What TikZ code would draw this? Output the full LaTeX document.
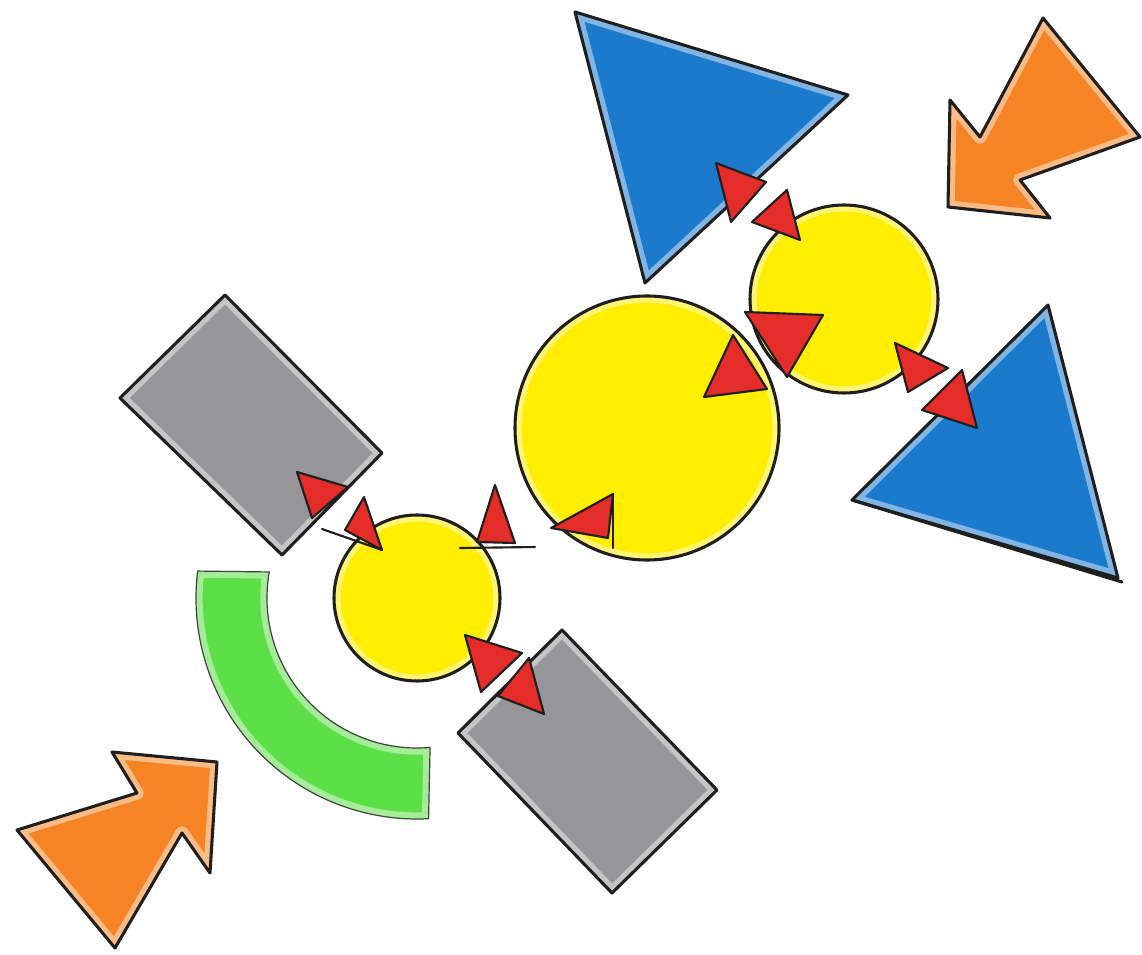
\documentclass[tikz,border=0pt]{standalone}
\definecolor{sblue}{RGB}{28,122,205}
\definecolor{sorange}{RGB}{246,132,36}
\definecolor{syellow}{RGB}{255,238,0}
\definecolor{sgray}{RGB}{150,150,153}
\definecolor{sgreen}{RGB}{92,222,70}
\definecolor{sred}{RGB}{228,45,40}
\tikzset{
  ink/.style={draw=black!88, line width=2.3pt, line join=round, line cap=round},
  wash/.style={draw=white, line width=10pt, opacity=0.45, line join=round},
  thinink/.style={draw=black!75, line width=0.9pt, line join=round},
  tipmark/.style={fill=sred, draw=black!88, line width=1.6pt, line join=round},
  stem/.style={draw=black!88, line width=1.6pt, line cap=round},
}
\def\pBlueA{(575,12) -- (848,95) -- (645,283) -- cycle}
\def\pBlueB{(1048,305) -- (1118,578) -- (852,500) -- cycle}
\def\pOrA{(948,207) -- (950,100) -- (980,137) -- (1043,18) -- (1140,137) -- (1020,180) -- (1050,218) -- cycle}
\def\pOrB{(217,762) -- (210,873) -- (182,833) -- (115,948) -- (17,830) -- (137,793) -- (112,752) -- cycle}
\def\pGrA{(225,295) -- (382,453) -- (282,555) -- (120,398) -- cycle}
\def\pGrB{(562,630) -- (717,790) -- (612,893) -- (458,733) -- cycle}
\def\pCBig{(647,428) circle[radius=132]}
\def\pCR{(844,299) circle[radius=94]}
\def\pCL{(417,598) circle[radius=83]}
\def\pGreen{[shift={(417,598)}] (187:221) arc[start angle=187,end angle=87,radius=221] -- (85:150) arc[start angle=85,end angle=190,radius=150] -- cycle}
\begin{document}
\begin{tikzpicture}[x=0.75pt,y=-0.75pt]
\useasboundingbox[fill=white] (0,0) rectangle (1142,955);
\coordinate (cBig) at (647,428);
\coordinate (cR) at (844,299);
\coordinate (cL) at (417,598);
% fills
\fill[sblue] \pBlueA;
\fill[sblue] \pBlueB;
\fill[sorange] \pOrA;
\fill[sorange] \pOrB;
\fill[sgray] \pGrA;
\fill[sgray] \pGrB;
\fill[syellow] \pCBig;
\fill[syellow] \pCR;
\fill[syellow] \pCL;
\fill[sgreen] \pGreen;
% soft watercolour edges
\path[wash] \pBlueA;
\path[wash] \pBlueB;
\path[wash] \pOrA;
\path[wash] \pOrB;
\path[wash] \pGrA;
\path[wash] \pGrB;
\path[wash] \pCBig;
\path[wash] \pCR;
\path[wash] \pCL;
\path[wash] \pGreen;
% outlines
\path[ink] \pBlueA;
\path[ink] \pBlueB;
\path[ink] (852,500) -- (1122,582);
\path[ink] \pOrA;
\path[ink] \pOrB;
\path[ink] \pGrA;
\path[ink] \pGrB;
\path[ink] \pCBig;
\path[ink] \pCR;
\path[ink] \pCL;
\path[thinink] \pGreen;
% interaction marks
\path[stem] (322,529) -- (382,550);
\path[stem] (460,548) -- (535,547);
\path[stem] (613,494) -- (613,548);
\path[tipmark] (297,472) -- (348,487) -- (312,518) -- cycle;
\path[tipmark] (364,497) -- (345,530) -- (382,550) -- cycle;
\path[tipmark] (495,485) -- (477,542) -- (515,543) -- cycle;
\path[tipmark] (551,528) -- (613,494) -- (608,538) -- cycle;
\path[tipmark] (733,335) -- (704,397) -- (767,389) -- cycle;
\path[tipmark] (745,312) -- (823,315) -- (787,377) -- cycle;
\path[tipmark] (895,343) -- (948,368) -- (908,392) -- cycle;
\path[tipmark] (962,370) -- (977,428) -- (922,410) -- cycle;
\path[tipmark] (716,163) -- (766,182) -- (731,222) -- cycle;
\path[tipmark] (787,190) -- (800,240) -- (752,222) -- cycle;
\path[tipmark] (465,635) -- (522,653) -- (481,692) -- cycle;
\path[tipmark] (529,658) -- (544,714) -- (498,696) -- cycle;
\end{tikzpicture}
\end{document}
